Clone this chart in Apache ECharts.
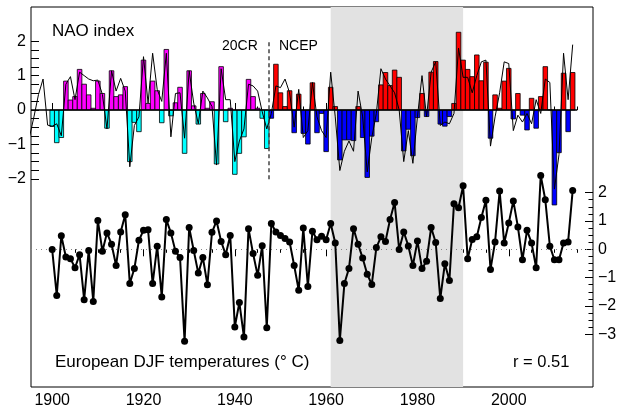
<!DOCTYPE html>
<html><head><meta charset="utf-8">
<script src="https://cdn.jsdelivr.net/npm/echarts@6/dist/echarts.min.js"></script>
<style>html,body{margin:0;padding:0;background:#fff}#c{width:620px;height:410px}</style>
</head><body><div id="c"></div>
<script>
// ---- data ----
const nao20crStart = 1900;
const nao20cr = [
 -0.48,-0.95,-0.80,0.84,0.29,0.39,1.18,0.75,0.44,0.05,
 0.84,0.48,-0.53,1.14,0.39,0.44,0.68,-1.50,-0.36,-0.63,
 1.45,0.19,0.84,0.56,-0.37,1.76,-0.17,0.21,0.66,-1.26,
 1.14,0.12,-0.41,0.48,0.05,0.24,-1.57,1.26,-0.34,0.05,
 -1.87,-1.26,-0.78,0.89,0.39,0.05,-0.24,-1.12];
const naoNcepStart = 1948;
const naoNcep = [
 -0.24,1.33,0.50,0.10,0.56,-0.66,0.46,-0.68,-0.99,0.79,
 -0.66,-0.10,-1.21,0.66,0.10,-1.45,-0.87,-0.87,-0.89,0.10,
 -0.80,-1.96,-0.76,-0.34,0.73,1.09,0.71,1.16,0.95,-1.19,
 -0.56,-1.33,-0.22,0.48,-0.19,1.10,1.41,-0.41,-0.47,-0.19,
 0.19,2.26,1.45,1.18,0.97,1.60,0.85,1.39,-0.82,0.44,
 0.05,0.84,1.21,-0.26,0.48,-0.15,-0.58,0.34,-0.53,0.39,
 1.26,0.0,-2.76,-1.24,1.07,-0.63,1.09];
const naoLineStart = 1895;
const naoLine = [
 -0.8,-0.2,0.45,0.9,-0.44,
 -0.47,-0.4,-0.75,0.75,0.97,0.3,1.1,1.0,0.9,0.85,
 0.87,0.45,-0.55,1.14,0.55,0.92,0.55,-1.65,-0.45,-0.2,
 1.55,0.2,1.65,0.6,0.25,1.65,-0.78,0.48,0.5,-0.82,
 1.14,0.2,-0.4,0.55,0.35,0.1,-1.6,1.2,0.3,0.3,
 -1.5,-0.9,-0.55,0.75,0.7,0.55,-0.05,-0.55,-0.1,0.7,
 0.65,0.9,0.5,-0.5,0.6,-0.8,-0.6,0.8,-0.2,-0.6,
 -0.8,1.1,-0.2,-1.76,-1.2,-0.9,-1.2,0.55,-0.2,-1.8,
 -0.8,-0.1,1.2,0.9,0.7,0.5,0.0,-1.5,-0.6,-1.55,
 -0.2,1.0,-0.2,1.1,1.4,-0.45,-0.35,-0.4,-0.1,1.8,
 0.95,0.95,0.5,1.0,1.4,1.45,-1.05,-0.2,0.5,1.4,
 1.35,-0.6,-0.15,-0.35,-0.1,-0.4,0.3,-0.1,0.9,0.8,
 -2.3,-1.3,1.65,0.3,1.9];
const tempStart = 1900;
const temp = [
 -0.01,-1.63,0.48,-0.27,-0.33,-0.65,-0.19,-1.78,-0.04,-1.84,
 1.02,-0.07,0.58,0.18,-0.57,0.61,1.22,-1.21,-0.68,0.32,
 0.67,0.69,-1.21,0.11,-1.68,1.05,0.58,-0.07,-0.29,-3.25,
 0.77,-0.04,-0.84,-0.29,-1.25,0.60,1.00,0.28,-0.19,0.49,
 -2.74,-1.88,-3.10,0.73,-0.15,-0.92,0.13,-2.77,0.91,0.61,
 0.49,0.38,0.26,-0.57,-1.45,0.75,-1.31,0.64,0.34,0.46,
 0.34,0.91,0.22,-3.22,-1.21,-0.68,0.73,0.18,-0.31,-0.88,
 -1.24,0.06,0.44,0.28,1.05,1.65,-0.01,0.61,0.12,-0.57,
 0.29,-0.68,-0.42,0.77,0.24,-1.74,-0.51,-1.10,1.61,1.47,
 2.24,-0.33,0.35,0.44,1.12,1.73,-0.71,0.26,2.06,0.22,
 0.93,1.71,0.79,-0.37,0.67,0.22,-0.65,2.61,1.75,0.11,
 -0.37,-0.37,0.22,0.26,2.08];
const xMajorTicks = [1900,1920,1940,1960,1980,2000];
const xMinorTicks = [1905,1910,1915,1925,1930,1935,1945,1950,1955,1965,1970,1975,1985,1990,1995,2005,2010,2015];
const naoMajorTicks = [-2,-1,0,1,2];
const tempMajorTicks = [-3,-2,-1,0,1,2];
const shadeRange = [1961, 1990];
const splitYear = 1947.5;
const zeroLineEnd = 2015;

// ---- build ----
function quarterTicks(lo, hi){ const r=[]; for(let v=lo*4; v<=hi*4; v++){ if(v%4!==0) r.push(v/4);} return r; }
const fmtMinus = v => String(v).replace('-', '\u2212');
const barColors = [['#ff00ff','#00ffff'],['#ff0000','#0000ff']];
const barData = [];
nao20cr.forEach((v,i)=>barData.push([nao20crStart+i, v, 0]));
naoNcep.forEach((v,i)=>barData.push([naoNcepStart+i, v, 1]));
const lineData = naoLine.map((v,i)=>[naoLineStart+i, v]);
const tempData = temp.map((v,i)=>[tempStart+i, v]);

const XMIN = 1895.36, XMAX = 2018.45;
const font = 'Liberation Sans, Arial, sans-serif';
const TICKFS = 16;
function xAx(pos, ticks, len, labels){
  return {type:'value', min:XMIN, max:XMAX, position:pos, axisLine:{show:false}, splitLine:{show:false},
    axisTick:{show:true, inside:true, length:len, customValues:ticks, lineStyle:{color:'#000', width:1}},
    axisLabel:{show:labels, customValues:ticks, color:'#000', fontSize:TICKFS, fontFamily:font, margin:6, formatter:v=>String(v)}};
}
function yAx(pos, min, max, ticks, len, labels){
  return {type:'value', min:min, max:max, position:pos, axisLine:{show:false}, splitLine:{show:false},
    axisTick:{show:true, inside:true, length:len, customValues:ticks, lineStyle:{color:'#000', width:1}},
    axisLabel:{show:labels, customValues:ticks, color:'#000', fontSize:TICKFS, fontFamily:font, margin:5, formatter:fmtMinus}};
}
const NAOMIN=-8.052, NAOMAX=2.994, TMIN=-4.862, TMAX=8.556;

function renderBar(params, api){
  const yr = api.value(0), v = api.value(1), g = api.value(2);
  const a = api.coord([yr - 0.5, v]);
  const b = api.coord([yr + 0.5, 0]);
  return {type:'rect',
    shape:{x:a[0], y:Math.min(a[1], b[1]), width:b[0]-a[0], height:Math.abs(b[1]-a[1])},
    style:{fill: barColors[g][v >= 0 ? 0 : 1], stroke:'#000', lineWidth:0.8}};
}

const option = {
  animation:false,
  backgroundColor:'#fff',
  grid:{left:31, right:27, top:7, bottom:23, show:true, borderColor:'#000', borderWidth:1, backgroundColor:'transparent'},
  xAxis:[ xAx('bottom', xMajorTicks, 7, true), xAx('bottom', xMinorTicks, 3.5, false),
          xAx('top', xMajorTicks, 7, false), xAx('top', xMinorTicks, 3.5, false) ],
  yAxis:[ yAx('left', NAOMIN, NAOMAX, naoMajorTicks, 8, true), yAx('left', NAOMIN, NAOMAX, quarterTicks(-2,2), 8, false),
          yAx('right', TMIN, TMAX, tempMajorTicks, 8, true), yAx('right', TMIN, TMAX, quarterTicks(-3,2), 4.5, false) ],
  series:[
    {type:'line', xAxisIndex:0, yAxisIndex:0, data:[[shadeRange[0],0]], showSymbol:false, lineStyle:{opacity:0}, z:1, silent:true,
     markArea:{silent:true, itemStyle:{color:'#e2e2e2'}, data:[[{xAxis:shadeRange[0]},{xAxis:shadeRange[1]}]]}},
    {type:'custom', xAxisIndex:0, yAxisIndex:0, data:barData, renderItem:renderBar, clip:true, z:3, silent:true},
    {type:'line', xAxisIndex:0, yAxisIndex:0, data:lineData, showSymbol:false, symbol:'none', z:4,
     lineStyle:{color:'#000', width:1},
     markLine:{silent:true, symbol:'none', label:{show:false},
       data:[
         [{coord:[XMIN,0], lineStyle:{color:'#000', width:1.5, type:'solid'}},{coord:[zeroLineEnd,0]}],
         [{coord:[splitYear,1.97], lineStyle:{color:'#444', width:1.5, type:[4,3]}},{coord:[splitYear,-2.05]}]
       ]}},
    {type:'line', xAxisIndex:0, yAxisIndex:2, data:tempData, symbol:'circle', symbolSize:7, z:5,
     itemStyle:{color:'#000'}, lineStyle:{color:'#000', width:2},
     markLine:{silent:true, symbol:'none', label:{show:false}, data:[{yAxis:0}],
       lineStyle:{color:'#888', width:1.2, type:[1,4]}}}
  ],
  graphic:[
    {type:'text', left:52, top:23, style:{text:'NAO index', font:'17px '+font, fill:'#000'}},
    {type:'text', left:222, top:39.5, style:{text:'20CR', font:'14px '+font, fill:'#000'}},
    {type:'text', left:279, top:39.5, style:{text:'NCEP', font:'14px '+font, fill:'#000'}},
    {type:'text', left:55, top:353.5, style:{text:'European DJF temperatures (\u00b0 C)', font:'17px '+font, fill:'#000'}},
    {type:'text', left:513, top:354, style:{text:'r = 0.51', font:'16.5px '+font, fill:'#000'}}
  ]
};
const chart = echarts.init(document.getElementById('c'), null, {renderer:'canvas'});
chart.setOption(option);
</script></body></html>
